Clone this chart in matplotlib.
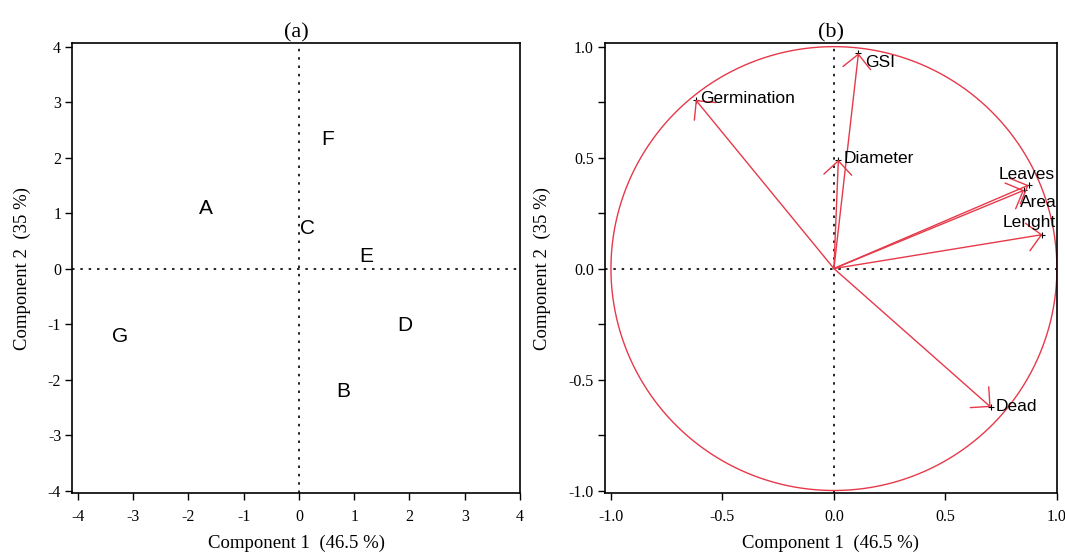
import matplotlib
matplotlib.use('Agg')
import matplotlib.pyplot as plt
import numpy as np

# Panel (a): sample scores on the first two components
sampleNames = ['A', 'B', 'C', 'D', 'E', 'F', 'G']
scoreX = [-1.69, 0.80, 0.16, 1.91, 1.22, 0.51, -3.24]
scoreY = [1.09, -2.22, 0.73, -1.03, 0.22, 2.32, -1.22]

# Panel (b): variable loadings (correlation circle)
varNames = ['GSI', 'Germination', 'Diameter', 'Leaves', 'Area', 'Lenght', 'Dead']
loadX = [0.11, -0.62, 0.02, 0.873, 0.853, 0.935, 0.703]
loadY = [0.97, 0.76, 0.49, 0.376, 0.353, 0.153, -0.624]

xLabel = 'Component 1  (46.5 %)'
yLabel = 'Component 2  (35 %)'

# label placement relative to arrow tip (dx, dy, ha)
labelOffsets = {
    'GSI': (0.03, -0.04, 'left'),
    'Germination': (0.02, 0.005, 'left'),
    'Diameter': (0.025, 0.005, 'left'),
    'Leaves': (-0.01, 0.05, 'center'),
    'Area': (-0.02, -0.055, 'left'),
    'Lenght': (-0.06, 0.055, 'center'),
    'Dead': (0.02, 0.004, 'left'),
}

red = '#E6394A'
plt.rcParams['font.family'] = ['Liberation Serif', 'DejaVu Serif']
plt.rcParams['axes.unicode_minus'] = False

fig = plt.figure(figsize=(10.65, 5.53), dpi=100)
ax1 = fig.add_axes([0.0679, 0.109, 0.4204, 0.8127])
ax2 = fig.add_axes([0.568, 0.109, 0.4244, 0.8127])

for ax in (ax1, ax2):
    for sp in ax.spines.values():
        sp.set_linewidth(1.2)
    ax.tick_params(direction='out', length=5, width=1, labelsize=11.5)
    ax.tick_params(axis='x', pad=7)
    ax.tick_params(axis='y', pad=3)
    ax.axhline(0, color='black', lw=1.2, linestyle=(0, (1.5, 3.5)))
    ax.axvline(0, color='black', lw=1.2, linestyle=(0, (1.5, 3.5)))
    ax.set_xlabel(xLabel, fontsize=13.5)
    ax.set_ylabel(yLabel, fontsize=13.5)

# ---- Panel (a)
ax1.set_xlim(-4.10, 4.0)
ax1.set_ylim(-4.04, 4.06)
ax1.set_xticks(range(-4, 5))
ax1.set_yticks(range(-4, 5))
for name, x, y in zip(sampleNames, scoreX, scoreY):
    ax1.text(x, y, name, fontsize=15, family='Liberation Sans', ha='center', va='center')
ax1.set_title('(a)', fontsize=16, pad=4)
ax1.xaxis.set_label_coords(0.5, -0.094)
ax1.yaxis.set_label_coords(-0.092, 0.5)

# ---- Panel (b)
ax2.set_xlim(-1.027, 1.0)
ax2.set_ylim(-1.01, 1.015)
xt = [-1.0, -0.5, 0.0, 0.5, 1.0]
ax2.set_xticks(xt)
ax2.set_xticklabels(['%.1f' % v for v in xt])
yt = np.arange(-1.0, 1.01, 0.25)
ax2.set_yticks(yt)
ax2.set_yticklabels(['%.1f' % v if abs(v * 2 - round(v * 2)) < 1e-9 else '' for v in yt])

theta = np.linspace(0, 2 * np.pi, 400)
ax2.plot(np.cos(theta), np.sin(theta), color=red, lw=1.0)

for name, x, y in zip(varNames, loadX, loadY):
    ax2.annotate('', xy=(x, y), xytext=(0, 0),
                 arrowprops=dict(arrowstyle='->,head_length=0.5,head_width=0.5',
                                 color=red, lw=1.0, shrinkA=0, shrinkB=0,
                                 mutation_scale=20))
    ax2.plot(x, y, marker='+', color='black', ms=5, mew=0.8)
    dx, dy, ha = labelOffsets[name]
    ax2.text(x + dx, y + dy, name, fontsize=12.5, family='Liberation Sans',
             ha=ha, va='center')
ax2.set_title('(b)', fontsize=16, pad=4)
ax2.xaxis.set_label_coords(0.5, -0.094)
ax2.yaxis.set_label_coords(-0.12, 0.5)

fig.savefig('out.png', dpi=100)
